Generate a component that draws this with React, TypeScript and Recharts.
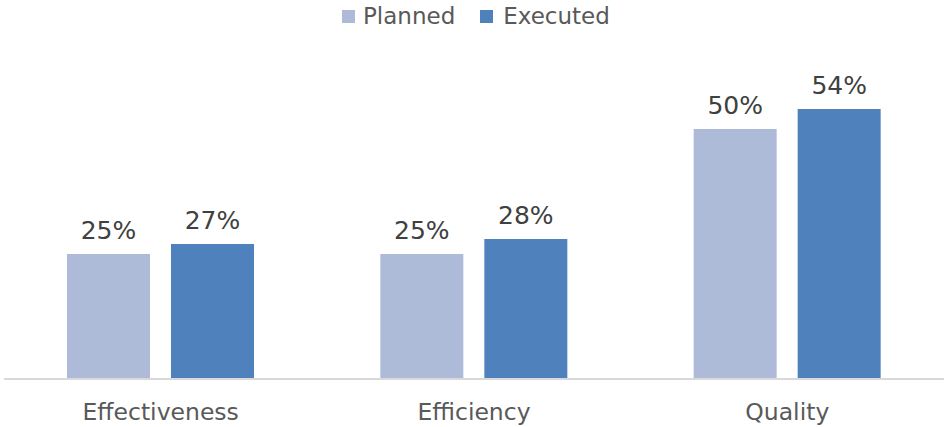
import { BarChart, Bar, XAxis, YAxis, LabelList } from "recharts";

const categories = ["Effectiveness", "Efficiency", "Quality"];
const planned = [25, 25, 50];
const executed = [27, 28, 54];

const data = categories.map((name, i) => ({
  name,
  planned: planned[i],
  executed: executed[i],
}));

const FONT = "'DejaVu Sans', Verdana, sans-serif";
const PLANNED_COLOR = "#adbad8";
const EXECUTED_COLOR = "#4f81bd";

function CategoryTick(props: any) {
  const { x, y, payload } = props;
  return (
    <text
      x={x}
      y={y}
      dy={41}
      textAnchor="middle"
      fill="#595959"
      fontSize={23.5}
      fontFamily={FONT}
    >
      {payload.value}
    </text>
  );
}

export default function App() {
  return (
    <div
      style={{
        position: "absolute",
        left: 0,
        top: 0,
        width: 944,
        height: 427,
        background: "#fff",
        fontFamily: FONT,
      }}
    >
      {/* legend drawn as html so it doesn't push the plot down */}
      <div
        style={{
          position: "absolute",
          top: 0,
          left: 342,
          display: "flex",
          alignItems: "center",
          fontSize: 23,
          color: "#595959",
          height: 32,
        }}
      >
        <span style={{ width: 13, height: 13, background: PLANNED_COLOR, marginRight: 8 }} />
        <span style={{ marginRight: 25 }}>Planned</span>
        <span style={{ width: 13, height: 13, background: EXECUTED_COLOR, marginRight: 10 }} />
        <span>Executed</span>
      </div>
      <BarChart
        width={944}
        height={427}
        data={data}
        margin={{ top: 79, right: 0, bottom: 0, left: 4 }}
        barCategoryGap={63}
        barGap={21}
      >
        <XAxis
          dataKey="name"
          height={48}
          tickLine={false}
          tickSize={0}
          tickMargin={0}
          axisLine={{ stroke: "#d9d9d9", strokeWidth: 2 }}
          tick={<CategoryTick />}
          interval={0}
        />
        <YAxis hide domain={[0, 60]} />
        <Bar dataKey="planned" fill={PLANNED_COLOR} isAnimationActive={false}>
          <LabelList
            dataKey="planned"
            position="top"
            offset={15}
            formatter={(v: any) => `${v}%`}
            fill="#404040"
            fontSize={25}
            fontFamily={FONT}
          />
        </Bar>
        <Bar dataKey="executed" fill={EXECUTED_COLOR} isAnimationActive={false}>
          <LabelList
            dataKey="executed"
            position="top"
            offset={15}
            formatter={(v: any) => `${v}%`}
            fill="#404040"
            fontSize={25}
            fontFamily={FONT}
          />
        </Bar>
      </BarChart>
    </div>
  );
}
